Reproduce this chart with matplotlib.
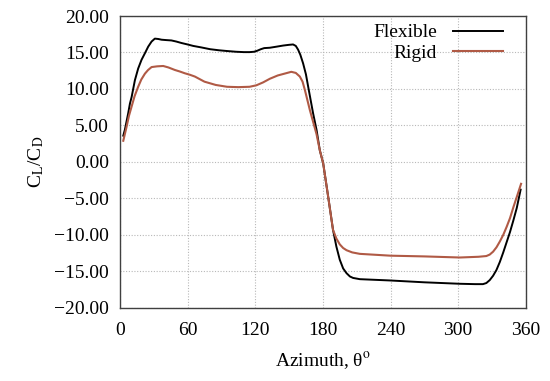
import matplotlib
matplotlib.use("Agg")
import matplotlib.pyplot as plt
from matplotlib.ticker import FuncFormatter

plt.rcParams['font.family'] = ['Liberation Serif', 'DejaVu Serif']
plt.rcParams['mathtext.fontset'] = 'stix'

# azimuth (deg) and CL/CD for the two blades
flex_theta = [3, 4.4, 7.4, 8.9, 10.4, 13.3, 16.2, 19.2, 22.2, 25.1, 28.1, 31, 34, 37, 41, 45.7,
              50, 54.6, 60, 65, 72, 80, 88, 95, 103, 110, 115, 119, 122, 125, 128, 133, 139,
              144.8, 150, 153.6, 156, 158, 160, 162.5, 165, 167, 171.3, 174.4, 177.3, 180.3,
              184.7, 189, 192, 195, 198, 201, 204, 206.8, 212.8, 240, 270, 301.5, 315, 322,
              325, 328, 331, 334, 337, 340, 343, 346, 349, 352, 355.4]
flex_ratio = [3.6, 4.4, 6.7, 8.0, 8.9, 11.2, 12.8, 14.0, 14.9, 15.8, 16.5, 16.9, 16.85, 16.75, 16.7, 16.65,
              16.5, 16.3, 16.1, 15.9, 15.7, 15.45, 15.3, 15.2, 15.1, 15.05, 15.05, 15.1, 15.25, 15.45, 15.6, 15.65, 15.8,
              15.95, 16.05, 16.1, 15.9, 15.4, 14.7, 13.5, 12.0, 10.3, 6.7, 4.4, 1.6, -0.2,
              -4.75, -9.3, -11.6, -13.4, -14.6, -15.25, -15.7, -15.9, -16.07, -16.25, -16.5, -16.7, -16.75, -16.75,
              -16.6, -16.2, -15.6, -14.8, -13.7, -12.4, -11.0, -9.6, -8.0, -6.3, -3.8]

rigid_theta = [3, 5.9, 8, 10.4, 13, 16.2, 19, 22.2, 25, 28.1, 33, 38.4, 43, 48.8, 53, 57.6, 62,
               66.5, 75, 85, 95, 105, 115, 121, 127, 133, 140, 146, 152, 156, 159.6, 162, 164,
               168.5, 174.4, 177.3, 180.3, 184.7, 189, 192, 195, 198, 201, 206, 212.8, 240, 270,
               301.5, 318, 325, 328, 331, 334, 337, 340, 343, 346, 349, 352, 355.8]
rigid_ratio = [2.9, 4.8, 6.3, 7.6, 9.0, 10.3, 11.3, 12.1, 12.6, 13.0, 13.1, 13.15, 12.95, 12.6, 12.4, 12.15, 11.95,
               11.7, 11.0, 10.55, 10.3, 10.25, 10.3, 10.5, 10.9, 11.4, 11.85, 12.1, 12.35, 12.2, 11.7, 11.0, 9.9,
               7.1, 3.8, 1.6, -0.2, -4.75, -9.3, -10.5, -11.3, -11.8, -12.1, -12.4, -12.6, -12.85, -12.95,
               -13.1, -13.0, -12.9, -12.7, -12.3, -11.7, -10.9, -10.0, -8.9, -7.7, -6.2, -4.8, -3.0]

xticks = [0, 60, 120, 180, 240, 300, 360]
yticks = [-20, -15, -10, -5, 0, 5, 10, 15, 20]

fig = plt.figure(figsize=(5.5, 3.81), dpi=100)
ax = fig.add_axes([0.218, 0.192, 0.738, 0.766])

ax.plot(flex_theta, flex_ratio, color='black', lw=1.4, label='Flexible')
ax.plot(rigid_theta, rigid_ratio, color='#b05a45', lw=1.5, label='Rigid')

ax.set_xlim(0, 360)
ax.set_ylim(-20, 20)
ax.set_xticks(xticks)
ax.set_yticks(yticks)
ax.yaxis.set_major_formatter(FuncFormatter(lambda v, p: ('%.2f' % v).replace('-', '\u2212')))
ax.tick_params(length=0, labelsize=14, pad=8)
ax.tick_params(axis='x', pad=10)
ax.grid(True, color='#b8b8b8', ls=(0, (1, 1.5)), lw=0.8)
for s in ax.spines.values():
    s.set_color('#404040')
    s.set_linewidth(1.0)

ax.set_xlabel(r'Azimuth, θ$^\mathrm{o}$', fontsize=14, labelpad=8)
ax.set_ylabel(r'C$_\mathrm{L}$/C$_\mathrm{D}$', fontsize=14, labelpad=6)

ax.legend(loc='upper right', bbox_to_anchor=(0.9635, 1.0), frameon=False, markerfirst=False,
          fontsize=14, handlelength=2.6, labelspacing=0.15, borderaxespad=0, handletextpad=0.8)

fig.savefig('out.png', dpi=100)
